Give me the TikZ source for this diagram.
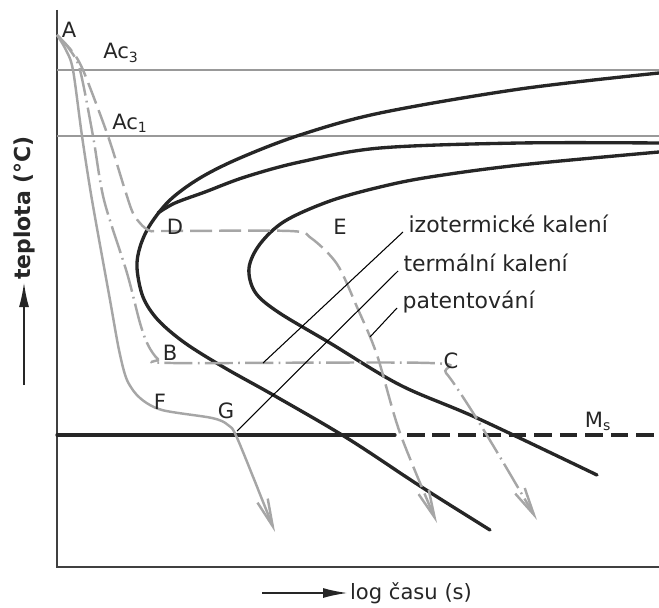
\documentclass[tikz,border=0pt]{standalone}
\usepackage{fontspec}
\setmainfont{DejaVu Sans}
\usetikzlibrary{arrows.meta}

\begin{document}
\begin{tikzpicture}[x=0.02cm, y=-0.02cm, every node/.style={font=\fontsize{12}{14}\selectfont, text=black!85, inner sep=1pt}, axis/.style={draw=black!75, line width=1.1pt}, crit/.style={draw=black!40, line width=1.5pt}, ttt/.style={draw=black!85, line width=1.9pt, line cap=round}, cool/.style={draw=black!35, line width=1.4pt, -{Straight Barb[length=5.5mm, width=2.2mm]}}, lead/.style={draw=black, line width=0.6pt}, lab/.style={anchor=base west, inner sep=3pt, font=\fontsize{12.5}{15}\selectfont}, ttl/.style={font=\fontsize{12}{14}\selectfont}, arr/.style={draw=black!85, line width=1.2pt, -{Latex[length=5mm, width=2mm]}}]
\useasboundingbox (0,0) rectangle (659,608);
\draw[axis] (57,10) -- (57,567) -- (659,567);
\draw[crit] (57,70) -- (659,70);
\draw[crit] (57,136) -- (659,136);
\draw[ttt] (57,435) -- (395,435);
\draw[ttt, line cap=butt, dash pattern=on 10pt off 4.5pt] (407,435) -- (659,435);
\draw[ttt] plot[smooth, tension=0.55] coordinates {(659,73) (520,89) (380,113) (300,135) (240,158) (200,178) (170,200) (150,225) (140,247) (137,268) (143,297) (158,320) (185,343) (225,368) (275,396) (347,438) (420,486) (490,530)};
\draw[ttt] plot[smooth, tension=0.55] coordinates {(659,143) (520,143) (380,148) (300,162) (245,177) (205,192) (175,203) (158,213)};
\draw[ttt] plot[smooth, tension=0.55] coordinates {(659,152) (520,165) (430,177) (380,187) (330,201) (285,221) (260,244) (249,268) (255,292) (278,312) (330,343) (400,385) (477,418) (597,475)};
\draw[cool] plot[smooth, tension=0.5] coordinates {(57,35) (66,50) (73,70) (82,136) (92,200) (110,300) (119,350) (127,380) (140,398) (162,410) (212,418) (228,425) (238,440) (275,532)};
\draw[cool, dash pattern=on 16pt off 3pt on 1pt off 3pt] plot[smooth, tension=0.5] coordinates {(57,35) (70,50) (80,70) (93,136) (104,200) (127,273) (140,323) (148,345) (158,359) (172,363) (430,363) (446,373) (470,408) (500,457) (537,520)};
\draw[cool, dash pattern=on 12.5pt off 4pt] plot[smooth, tension=0.5] coordinates {(57,35) (71,50) (83,70) (108,136) (125,190) (134,215) (148,230) (166,231) (290,231) (311,238) (337,264) (357,307) (377,355) (400,433) (437,523)};
\coordinate (p1) at (263,363);
\coordinate (p2) at (237,431);
\coordinate (p3) at (370,337);
\node[lab] (izo) at (403,232) {izotermické kalení};
\node[lab] (term) at (398,271) {termální kalení};
\node[lab] (pat) at (397,308) {patentování};
\draw[lead] (p1) -- (izo.base west);
\draw[lead] (p2) -- (term.base west);
\draw[lead] (p3) -- (pat.base west);
\node (a) at (69,30) {A};
\node (ac3) at (121,53) {Ac\textsubscript{3}};
\node (ac1) at (130,123) {Ac\textsubscript{1}};
\node (d) at (175,227) {D};
\node (e) at (340,227) {E};
\node (b) at (170,353) {B};
\node (c) at (451,361) {C};
\node (f) at (160,402) {F};
\node (g) at (226,411) {G};
\node (ms) at (598,421) {M\textsubscript{s}};
\node[ttl, rotate=90, font=\fontsize{12.5}{15}\selectfont\bfseries] (ylab) at (24,208) {teplota (°C)};
\coordinate (ya) at (24,385);
\draw[arr] (ya) -- (ylab.west);
\node[ttl, anchor=west] (xlab) at (348,593) {log času (s)};
\coordinate (xa) at (262,593);
\draw[arr] (xa) -- (xlab.west);
\end{tikzpicture}
\end{document}
